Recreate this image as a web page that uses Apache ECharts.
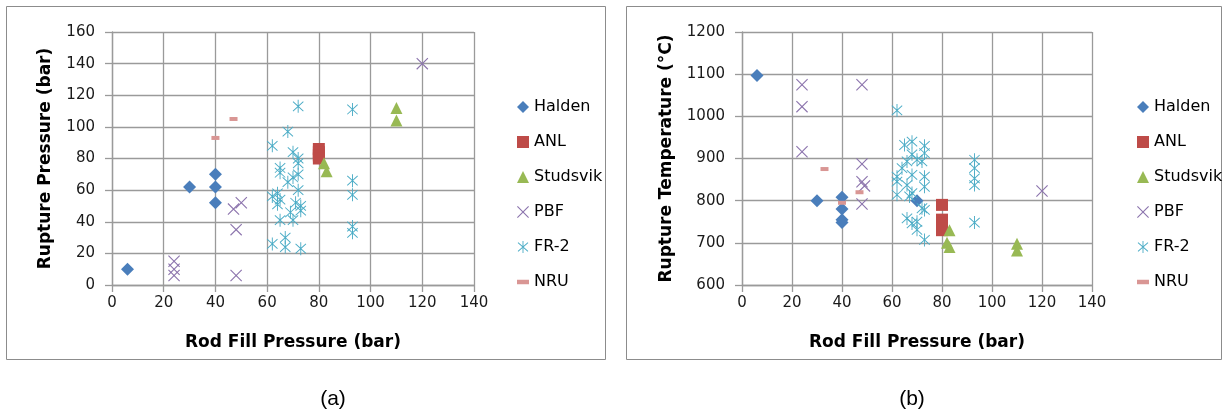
<!DOCTYPE html>
<html>
<head>
<meta charset="utf-8">
<script src="https://cdn.jsdelivr.net/npm/echarts@6/dist/echarts.min.js"></script>
<style>
  html, body { margin: 0; padding: 0; background: #ffffff; }
  #chart { width: 1227px; height: 412px; }
</style>
</head>
<body>
<div id="chart"></div>
<script>
// Test programmes shown in both panels
const seriesNames = ['Halden', 'ANL', 'Studsvik', 'PBF', 'FR-2', 'NRU'];

// Axis ranges and tick steps
const fillRange = [0, 140, 20];            // rod fill pressure (bar)
const pressureRange = [0, 160, 20];        // rupture pressure (bar)
const temperatureRange = [600, 1200, 100]; // rupture temperature (°C)

// Panel (a): [rod fill pressure, rupture pressure]
const haldenPressure = [[6, 10], [30, 62], [40, 70], [40, 62], [40, 52]];
const anlPressure = [[80, 86], [80, 84], [80, 82], [80, 80]];
const studsvikPressure = [[82, 77], [83, 72], [110, 112], [110, 104]];
const pbfPressure = [[24, 15], [24, 10], [24, 6], [48, 6], [48, 35], [47, 48], [50, 52], [120, 140]];
const fr2Pressure = [
  [62, 88], [68, 97], [72, 113], [70, 84], [72, 80], [72, 77], [65, 74], [65, 71],
  [72, 70], [70, 68], [68, 65], [64, 58], [62, 56], [65, 54], [72, 60], [71, 52],
  [73, 50], [64, 51], [69, 46], [73, 47], [65, 41], [70, 41], [62, 26], [67, 30],
  [67, 24], [73, 23], [93, 111], [93, 66], [93, 57], [93, 37], [93, 33]
];
const nruPressure = [[40, 93], [47, 105]];

// Panel (b): [rod fill pressure, rupture temperature]
const haldenTemperature = [[6, 1097], [30, 800], [40, 808], [40, 780], [40, 755], [40, 748], [70, 800]];
const anlTemperature = [[80, 790], [80, 755], [80, 745], [80, 735], [80, 730]];
const studsvikTemperature = [[83, 730], [82, 700], [83, 690], [110, 698], [110, 682]];
const pbfTemperature = [[24, 1075], [24, 1023], [24, 916], [48, 1075], [48, 887], [48, 845], [49, 835], [48, 792], [120, 823]];
const fr2Temperature = [
  [62, 1014], [68, 940], [65, 932], [73, 930], [66, 893], [68, 910], [73, 913], [70, 897],
  [72, 893], [64, 877], [62, 857], [73, 857], [73, 833], [66, 837], [62, 845], [68, 861],
  [62, 814], [68, 818], [67, 810], [72, 782], [73, 778], [66, 758], [68, 746], [70, 750],
  [70, 731], [73, 707], [93, 897], [93, 877], [93, 853], [93, 837], [93, 748]
];
const nruTemperature = [[33, 875], [47, 820], [40, 795]];

const palette = {
  'Halden': '#4a7ebb',
  'ANL': '#be4b48',
  'Studsvik': '#98b954',
  'PBF': '#8c74ad',
  'FR-2': '#4bacc6',
  'NRU': '#d99694'
};

const FONT = 'DejaVu Sans';

// Thin bar along a segment, used to build line-style marker glyphs
function seg(x1, y1, x2, y2, w) {
  const dx = x2 - x1, dy = y2 - y1;
  const len = Math.sqrt(dx * dx + dy * dy);
  const nx = -dy / len * w, ny = dx / len * w;
  const p = (a, b) => a.toFixed(3) + ',' + b.toFixed(3);
  return 'M' + p(x1 + nx, y1 + ny) + ' L' + p(x2 + nx, y2 + ny) +
         ' L' + p(x2 - nx, y2 - ny) + ' L' + p(x1 - nx, y1 - ny) + ' Z ';
}
const crossSymbol = 'path://' + seg(0, 0, 10, 10, 0.5) + seg(10, 0, 0, 10, 0.5);
const starSymbol = 'path://' + seg(5, 0, 5, 12, 0.45) + seg(0, 1.6, 10, 10.4, 0.45) + seg(10, 1.6, 0, 10.4, 0.45);
const dashSymbol = 'path://M0,0 L8,0 L8,3 L0,3 Z';

const markers = {
  'Halden': { symbol: 'diamond', size: 13 },
  'ANL': { symbol: 'rect', size: 12 },
  'Studsvik': { symbol: 'triangle', size: 12 },
  'PBF': { symbol: crossSymbol, size: 12 },
  'FR-2': { symbol: starSymbol, size: [11, 13] },
  'NRU': { symbol: dashSymbol, size: [8, 4] }
};

const pressureSets = [haldenPressure, anlPressure, studsvikPressure, pbfPressure, fr2Pressure, nruPressure];
const temperatureSets = [haldenTemperature, anlTemperature, studsvikTemperature, pbfTemperature, fr2Temperature, nruTemperature];

function makeSeries(sets, axisIndex) {
  return seriesNames.map((name, i) => ({
    name: name,
    type: 'scatter',
    xAxisIndex: axisIndex,
    yAxisIndex: axisIndex,
    symbol: markers[name].symbol,
    symbolSize: markers[name].size,
    itemStyle: { color: palette[name], opacity: 1 },
    emphasis: { disabled: true },
    data: sets[i]
  }));
}

const gridColor = '#9a9a9a';

function valueAxis(range, extra) {
  return Object.assign({
    type: 'value',
    min: range[0],
    max: range[1],
    interval: range[2],
    axisLine: { show: true, lineStyle: { color: gridColor, width: 1.3 } },
    axisTick: { show: true, length: 7, lineStyle: { color: gridColor, width: 1.3 } },
    splitLine: { show: true, lineStyle: { color: gridColor, width: 1.3 } },
    nameLocation: 'middle',
    nameTextStyle: { color: '#000', fontFamily: FONT, fontSize: 17, fontWeight: 'bold' }
  }, extra);
}

function tickLabels(margin) {
  return { color: '#1a1a1a', fontFamily: FONT, fontSize: 15, margin: margin,
           formatter: (v) => String(v) };
}

function legendAt(left) {
  return {
    orient: 'vertical',
    left: left,
    top: 94,
    itemWidth: 12,
    itemHeight: 12,
    itemGap: 19,
    selectedMode: false,
    textStyle: { color: '#000', fontFamily: FONT, fontSize: 16, lineHeight: 16 },
    data: seriesNames
  };
}

const chart = echarts.init(document.getElementById('chart'), null, { renderer: 'canvas' });

chart.setOption({
  animation: false,
  backgroundColor: '#ffffff',
  grid: [
    { left: 112, top: 32, width: 362, height: 253 },
    { left: 742, top: 32, width: 350, height: 253 }
  ],
  xAxis: [
    valueAxis(fillRange, { gridIndex: 0, name: 'Rod Fill Pressure (bar)', nameGap: 49, axisLabel: tickLabels(11) }),
    valueAxis(fillRange, { gridIndex: 1, name: 'Rod Fill Pressure (bar)', nameGap: 49, axisLabel: tickLabels(11) })
  ],
  yAxis: [
    valueAxis(pressureRange, { gridIndex: 0, name: 'Rupture Pressure (bar)', nameGap: 58, axisLabel: tickLabels(17) }),
    valueAxis(temperatureRange, { gridIndex: 1, name: 'Rupture Temperature (°C)', nameGap: 67, axisLabel: tickLabels(17) })
  ],
  legend: [legendAt(512), legendAt(1132)],
  graphic: [
    { type: 'rect', shape: { x: 6.5, y: 6.5, width: 599, height: 353 },
      style: { fill: 'none', stroke: '#8c8c8c', lineWidth: 1 }, silent: true, z: -1 },
    { type: 'rect', shape: { x: 626.5, y: 6.5, width: 595, height: 353 },
      style: { fill: 'none', stroke: '#8c8c8c', lineWidth: 1 }, silent: true, z: -1 },
    { type: 'text', x: 333, y: 399,
      style: { text: '(a)', fill: '#000', font: '21px "Liberation Sans", Arial, sans-serif',
               textAlign: 'center', textVerticalAlign: 'middle' }, silent: true },
    { type: 'text', x: 912, y: 399,
      style: { text: '(b)', fill: '#000', font: '21px "Liberation Sans", Arial, sans-serif',
               textAlign: 'center', textVerticalAlign: 'middle' }, silent: true }
  ],
  series: makeSeries(pressureSets, 0).concat(makeSeries(temperatureSets, 1))
});
</script>
</body>
</html>
